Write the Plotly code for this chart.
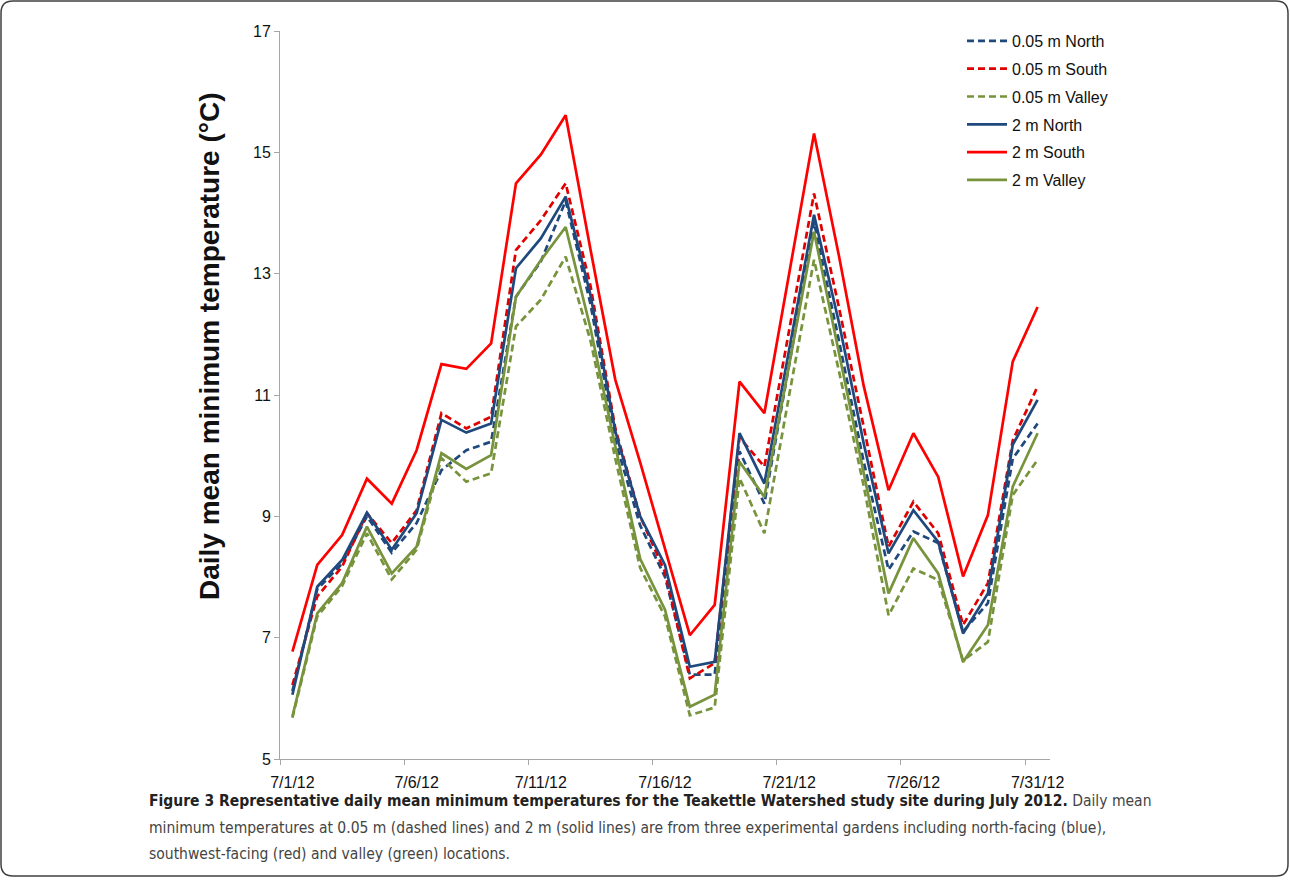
import pandas as pd
import plotly.graph_objects as go

# ---------------- data ----------------
dates = pd.date_range("2012-07-01", "2012-07-31", freq="D")
tick_labels = ["7/1/12", "7/6/12", "7/11/12", "7/16/12", "7/21/12", "7/26/12", "7/31/12"]
tick_dates = dates[::5]

north_005 = [6.12, 7.80, 8.22, 9.00, 8.40, 8.89, 9.76, 10.09, 10.23, 12.62, 13.20, 14.20, 12.50, 10.25, 8.85, 8.00,
             6.39, 6.39, 10.07, 9.21, 11.50, 13.85, 11.90, 9.90, 8.12, 8.75, 8.56, 7.10, 7.57, 9.95, 10.53]
south_005 = [6.22, 7.68, 8.17, 9.05, 8.56, 9.10, 10.70, 10.45, 10.64, 13.39, 13.88, 14.49, 12.80, 10.45, 9.00, 8.08,
             6.33, 6.58, 10.30, 9.82, 12.07, 14.32, 12.45, 10.50, 8.50, 9.24, 8.72, 7.21, 7.90, 10.25, 11.14]
valley_005 = [5.68, 7.35, 7.85, 8.72, 7.96, 8.45, 9.96, 9.57, 9.71, 12.13, 12.57, 13.28, 11.90, 9.95, 8.15, 7.35,
              5.72, 5.85, 9.63, 8.72, 11.00, 13.23, 11.40, 9.50, 7.37, 8.14, 7.95, 6.62, 6.93, 9.35, 9.93]
north_2 = [6.06, 7.84, 8.28, 9.06, 8.45, 9.05, 10.59, 10.38, 10.53, 13.09, 13.58, 14.27, 12.65, 10.40, 9.00, 8.20,
           6.52, 6.60, 10.37, 9.54, 11.75, 13.97, 12.20, 10.20, 8.39, 9.10, 8.58, 7.07, 7.73, 10.18, 10.92]
south_2 = [6.77, 8.20, 8.69, 9.62, 9.21, 10.09, 11.51, 11.43, 11.85, 14.49, 14.96, 15.61, 13.40, 11.25, 9.89, 8.46,
           7.04, 7.54, 11.22, 10.70, 13.00, 15.31, 13.30, 11.15, 9.43, 10.37, 9.65, 8.01, 9.02, 11.55, 12.45]
valley_2 = [5.70, 7.40, 7.90, 8.83, 8.06, 8.50, 10.04, 9.78, 10.01, 12.62, 13.22, 13.77, 12.10, 10.15, 8.30, 7.46,
            5.86, 6.06, 9.90, 9.32, 11.50, 13.69, 11.70, 9.70, 7.73, 8.64, 8.06, 6.60, 7.21, 9.49, 10.37]

series = [
    ("0.05 m North", north_005, "#1F497D", "7px,4px"),
    ("0.05 m South", south_005, "#E00000", "7px,4px"),
    ("0.05 m Valley", valley_005, "#77933C", "7px,4px"),
    ("2 m North", north_2, "#1F497D", "solid"),
    ("2 m South", south_2, "#FF0000", "solid"),
    ("2 m Valley", valley_2, "#77933C", "solid"),
]

# ---------------- layout geometry ----------------
W_FIG, H_FIG = 1290, 880
L, R, T, B = 280, 240, 31, 121
W = W_FIG - L - R
H = H_FIG - T - B


def px(x):
    return (x - L) / W


def py(y):
    return (H_FIG - B - y) / H


fig = go.Figure()
for i, (name, vals, color, dash) in enumerate(series):
    fig.add_trace(go.Scatter(
        x=dates, y=vals, name=name, mode="lines",
        line=dict(color=color, width=2.7, dash=dash),
        legendgroup=f"g{i}",
    ))

axis_color = "#A6A6A6"
tick_font = dict(family="Liberation Sans, Arial, sans-serif", size=16, color="#111111")
half_day = pd.Timedelta(hours=12)

fig.update_xaxes(
    type="date",
    range=[dates[0] - half_day, dates[-1] + half_day],
    tickmode="array",
    tickvals=list(tick_dates),
    ticktext=tick_labels,
    ticks="outside", ticklen=9, tickcolor="rgba(0,0,0,0)",
    showline=True, linecolor=axis_color, linewidth=1,
    showgrid=False, zeroline=False,
    tickfont=tick_font,
    minor=dict(tickmode="array", tickvals=[d - half_day for d in tick_dates],
               ticks="outside", ticklen=5, tickcolor=axis_color, tickwidth=1, showgrid=False),
)
fig.update_yaxes(
    range=[5, 17], tickmode="linear", tick0=5, dtick=2,
    ticks="outside", ticklen=5, tickcolor=axis_color, tickwidth=1,
    showline=True, linecolor=axis_color, linewidth=1,
    showgrid=False, zeroline=False,
    tickfont=tick_font,
)

border_r = 12
x0, y0, x1, y1 = 1, 1, 1288, 876
rx = border_r
path = (
    f"M {px(x0 + rx)},{py(y0)} L {px(x1 - rx)},{py(y0)} "
    f"Q {px(x1)},{py(y0)} {px(x1)},{py(y0 + rx)} "
    f"L {px(x1)},{py(y1 - rx)} Q {px(x1)},{py(y1)} {px(x1 - rx)},{py(y1)} "
    f"L {px(x0 + rx)},{py(y1)} Q {px(x0)},{py(y1)} {px(x0)},{py(y1 - rx)} "
    f"L {px(x0)},{py(y0 + rx)} Q {px(x0)},{py(y0)} {px(x0 + rx)},{py(y0)} Z"
)

cap_font = "Liberation Sans Narrow, DejaVu Sans Condensed, Roboto Condensed, Liberation Sans, sans-serif"
captions = [
    "<b>Figure 3 Representative daily mean minimum temperatures for the Teakettle Watershed study site during July 2012.</b>"
    "<span style='color:#444444'> Daily mean</span>",
    "minimum temperatures at 0.05 m (dashed lines) and 2 m (solid lines) are from three experimental gardens including north-facing (blue),",
    "southwest-facing (red) and valley (green) locations.",
]
cap_y = [801, 828, 854]

annotations = [
    dict(text="<b>Daily mean minimum temperature (°C)</b>", xref="paper", yref="paper",
         x=px(209), y=py(346), xanchor="center", yanchor="middle", textangle=-90, showarrow=False,
         font=dict(family="Liberation Sans, Arial, sans-serif", size=28, color="#111111")),
]
for txt, yy in zip(captions, cap_y):
    annotations.append(dict(
        text=txt, xref="paper", yref="paper", x=px(147), y=py(yy),
        xanchor="left", yanchor="middle", showarrow=False, align="left",
        font=dict(family=cap_font, size=15.5, color="#222222" if yy == cap_y[0] else "#444444"),
    ))

fig.update_layout(
    width=W_FIG, height=H_FIG,
    margin=dict(l=L, r=R, t=T, b=B, autoexpand=False),
    paper_bgcolor="white", plot_bgcolor="white",
    showlegend=True,
    legend=dict(x=px(962), y=py(24), xanchor="left", yanchor="top",
                font=dict(family="Liberation Sans, Arial, sans-serif", size=16, color="#111111"),
                bgcolor="rgba(255,255,255,0)", tracegroupgap=4, traceorder="grouped",
                itemwidth=40),
    annotations=annotations,
    shapes=[dict(type="path", path=path, xref="paper", yref="paper",
                 line=dict(color="#404040", width=1.5), fillcolor="rgba(0,0,0,0)", layer="above")],
)

fig.write_html("out.html")
